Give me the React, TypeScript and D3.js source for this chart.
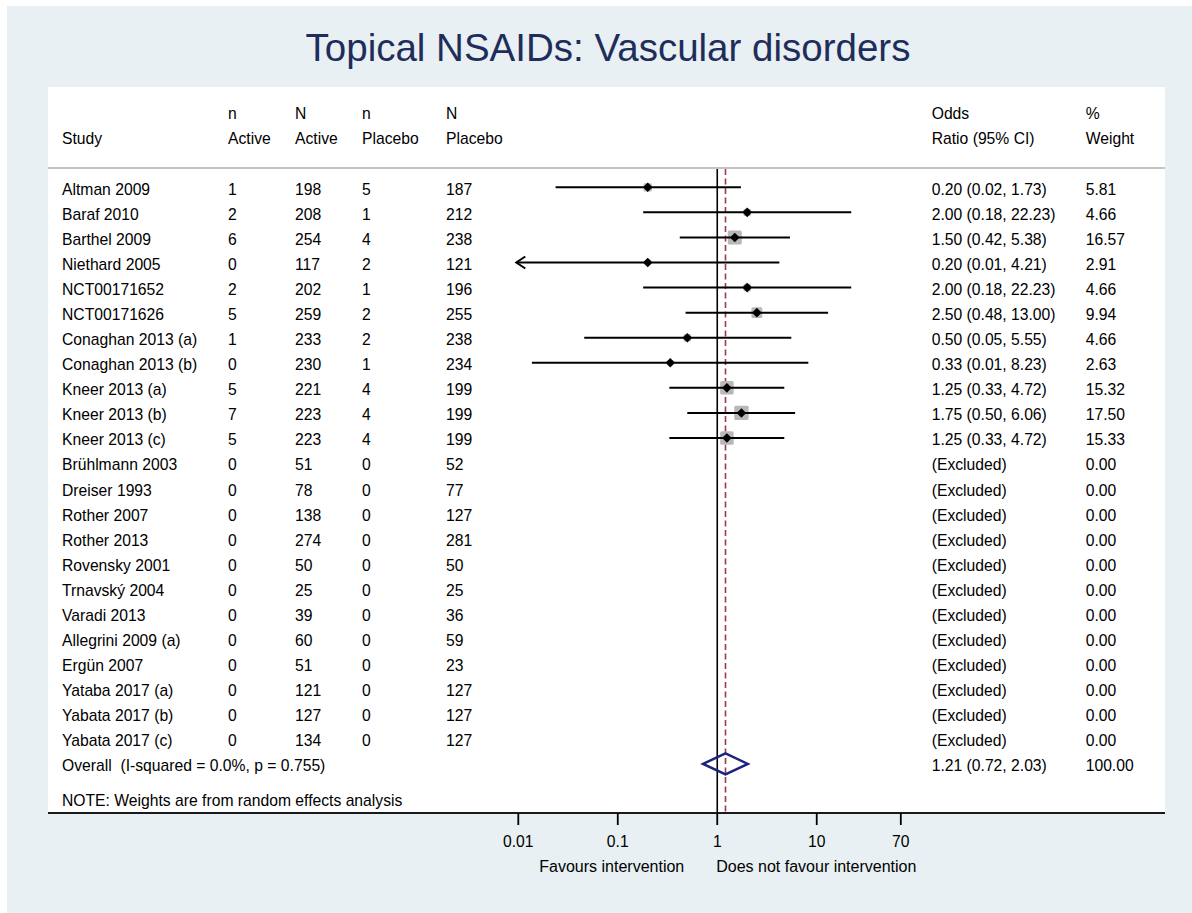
import React, { useEffect } from "react";
import * as d3 from "d3";

const studies = [
  "Altman 2009", "Baraf 2010", "Barthel 2009", "Niethard 2005", "NCT00171652", "NCT00171626",
  "Conaghan 2013 (a)", "Conaghan 2013 (b)", "Kneer 2013 (a)", "Kneer 2013 (b)", "Kneer 2013 (c)",
  "Brühlmann 2003", "Dreiser 1993", "Rother 2007", "Rother 2013", "Rovensky 2001", "Trnavský 2004",
  "Varadi 2013", "Allegrini 2009 (a)", "Ergün 2007", "Yataba 2017 (a)", "Yabata 2017 (b)", "Yabata 2017 (c)",
];
const nActive = [1, 2, 6, 0, 2, 5, 1, 0, 5, 7, 5, 0, 0, 0, 0, 0, 0, 0, 0, 0, 0, 0, 0];
const NActive = [198, 208, 254, 117, 202, 259, 233, 230, 221, 223, 223, 51, 78, 138, 274, 50, 25, 39, 60, 51, 121, 127, 134];
const nPlacebo = [5, 1, 4, 2, 1, 2, 2, 1, 4, 4, 4, 0, 0, 0, 0, 0, 0, 0, 0, 0, 0, 0, 0];
const NPlacebo = [187, 212, 238, 121, 196, 255, 238, 234, 199, 199, 199, 52, 77, 127, 281, 50, 25, 36, 59, 23, 127, 127, 127];
const orLabels = [
  "0.20 (0.02, 1.73)", "2.00 (0.18, 22.23)", "1.50 (0.42, 5.38)", "0.20 (0.01, 4.21)", "2.00 (0.18, 22.23)",
  "2.50 (0.48, 13.00)", "0.50 (0.05, 5.55)", "0.33 (0.01, 8.23)", "1.25 (0.33, 4.72)", "1.75 (0.50, 6.06)",
  "1.25 (0.33, 4.72)", "(Excluded)", "(Excluded)", "(Excluded)", "(Excluded)", "(Excluded)", "(Excluded)",
  "(Excluded)", "(Excluded)", "(Excluded)", "(Excluded)", "(Excluded)", "(Excluded)",
];
const weightLabels = [
  "5.81", "4.66", "16.57", "2.91", "4.66", "9.94", "4.66", "2.63", "15.32", "17.50", "15.33",
  "0.00", "0.00", "0.00", "0.00", "0.00", "0.00", "0.00", "0.00", "0.00", "0.00", "0.00", "0.00",
];
// plotted estimates (only non-excluded studies)
const orEst = [0.2, 2.0, 1.5, 0.2, 2.0, 2.5, 0.5, 0.337, 1.25, 1.75, 1.25];
const ciLo = [0.0237, 0.18, 0.42, 0.009, 0.18, 0.48, 0.046, 0.0137, 0.33, 0.5, 0.33];
const ciHi = [1.73, 22.23, 5.38, 4.21, 22.23, 13.0, 5.55, 8.23, 4.72, 6.06, 4.72];
const weights = [5.81, 4.66, 16.57, 2.91, 4.66, 9.94, 4.66, 2.63, 15.32, 17.5, 15.33];
const overall = { est: 1.21, lo: 0.72, hi: 2.03 };
const overallLabel = "Overall  (I-squared = 0.0%, p = 0.755)";
const overallOR = "1.21 (0.72, 2.03)";
const overallWeight = "100.00";
const xTicks = [0.01, 0.1, 1, 10, 70];
const xTickLabels = ["0.01", "0.1", "1", "10", "70"];

const FONT = "'Liberation Sans', Arial, Helvetica, sans-serif";

export default function App() {
  useEffect(() => {
    document.body.style.margin = "0";
    document.documentElement.style.overflow = "hidden";
    document.body.style.overflow = "hidden";
  }, []);
  const W = 1192, H = 913;
  const x = d3.scaleLog().domain([0.01, 70]).range([518.3, 900.8]);
  const y = d3.scaleLinear().domain([0, 23]).range([187.3, 763.9]);
  const fs = 15.7;
  const top = 168, axisY = 813;
  const panel = { x0: 48, x1: 1165, y0: 87 };
  const cols = { study: 62, nA: 228, NA: 295, nP: 362, NP: 446, or: 931.7, w: 1085.7 };
  const baseOff = 7.4;
  const sq = (w: number) => 3.44 * Math.sqrt(w);
  const xmin = x.domain()[0];

  return (
    <svg width={W} height={H} style={{ position: "fixed", left: 0, top: 0, display: "block" }} fontFamily={FONT}>
      <rect x={0} y={0} width={W} height={H} fill="#ffffff" />
      <rect x={7} y={6} width={W - 7} height={H - 6} fill="#e8f0f3" />
      <rect x={panel.x0} y={panel.y0} width={panel.x1 - panel.x0} height={axisY - panel.y0} fill="#ffffff" />
      <text x={608} y={61} textAnchor="middle" fontSize={38.5} fill="#1e2d5a">
        Topical NSAIDs: Vascular disorders
      </text>

      {/* header */}
      <g fontSize={fs} fill="#000">
        <text x={cols.study} y={144}>Study</text>
        <text x={cols.nA} y={119}>n</text>
        <text x={cols.nA} y={144}>Active</text>
        <text x={cols.NA} y={119}>N</text>
        <text x={cols.NA} y={144}>Active</text>
        <text x={cols.nP} y={119}>n</text>
        <text x={cols.nP} y={144}>Placebo</text>
        <text x={cols.NP} y={119}>N</text>
        <text x={cols.NP} y={144}>Placebo</text>
        <text x={cols.or} y={119}>Odds</text>
        <text x={cols.or} y={144}>Ratio (95% CI)</text>
        <text x={cols.w} y={119}>%</text>
        <text x={cols.w} y={144}>Weight</text>
      </g>
      <line x1={panel.x0} x2={panel.x1} y1={top} y2={top} stroke="#c4c4c4" strokeWidth={2} />

      {/* rows text */}
      <g fontSize={fs} fill="#000">
        {studies.map((s, i) => (
          <g key={s + i}>
            <text x={cols.study} y={y(i) + baseOff}>{s}</text>
            <text x={cols.nA} y={y(i) + baseOff}>{nActive[i]}</text>
            <text x={cols.NA} y={y(i) + baseOff}>{NActive[i]}</text>
            <text x={cols.nP} y={y(i) + baseOff}>{nPlacebo[i]}</text>
            <text x={cols.NP} y={y(i) + baseOff}>{NPlacebo[i]}</text>
            <text x={cols.or} y={y(i) + baseOff}>{orLabels[i]}</text>
            <text x={cols.w} y={y(i) + baseOff}>{weightLabels[i]}</text>
          </g>
        ))}
        <text x={cols.study} y={y(23) + baseOff} style={{ whiteSpace: "pre" }}>{overallLabel}</text>
        <text x={cols.or} y={y(23) + baseOff}>{overallOR}</text>
        <text x={cols.w} y={y(23) + baseOff}>{overallWeight}</text>
        <text x={cols.study} y={806}>NOTE: Weights are from random effects analysis</text>
      </g>

      {/* reference lines */}
      <line x1={x(1)} x2={x(1)} y1={top + 1} y2={axisY} stroke="#000" strokeWidth={1.6} />
      <line x1={x(overall.est)} x2={x(overall.est)} y1={top + 1} y2={axisY} stroke="#9e3a45" strokeWidth={1.6} strokeDasharray="6,3.5" />

      {/* study markers */}
      {orEst.map((e, i) => {
        const s = sq(weights[i]);
        const yy = y(i);
        const clipped = ciLo[i] < xmin;
        const lx = x(Math.max(ciLo[i], xmin)) - (clipped ? 2 : 0);
        const cx = x(e);
        return (
          <g key={"m" + i}>
            <rect x={cx - s / 2} y={yy - s / 2} width={s} height={s} fill="#b8b8b8" rx={1.5} />
            <line x1={lx} x2={x(ciHi[i])} y1={yy} y2={yy} stroke="#000" strokeWidth={2} />
            {clipped && (
              <path d={`M${lx + 9},${yy - 6}L${lx},${yy}L${lx + 9},${yy + 6}`} fill="none" stroke="#000" strokeWidth={2} />
            )}
            <path d={`M${cx - 4.8},${yy}L${cx},${yy - 4.8}L${cx + 4.8},${yy}L${cx},${yy + 4.8}Z`} fill="#000" />
          </g>
        );
      })}

      {/* overall diamond */}
      <path
        d={`M${x(overall.lo)},${y(23)}L${x(overall.est)},${y(23) - 10.5}L${x(overall.hi)},${y(23)}L${x(overall.est)},${y(23) + 10.5}Z`}
        fill="none"
        stroke="#1a237e"
        strokeWidth={2.4}
      />

      {/* axis */}
      <line x1={panel.x0} x2={panel.x1} y1={axisY} y2={axisY} stroke="#1a1a1a" strokeWidth={2.2} />
      {xTicks.map((t, i) => (
        <g key={"t" + i}>
          <line x1={x(t)} x2={x(t)} y1={axisY} y2={axisY + 12} stroke="#000" strokeWidth={1.8} />
          <text x={x(t)} y={847} textAnchor="middle" fontSize={fs} fill="#000">{xTickLabels[i]}</text>
        </g>
      ))}
      <text x={x(1) - 33} y={872} textAnchor="end" fontSize={16} fill="#000">Favours intervention</text>
      <text x={x(1) - 1} y={872} textAnchor="start" fontSize={16} fill="#000">Does not favour intervention</text>
    </svg>
  );
}
